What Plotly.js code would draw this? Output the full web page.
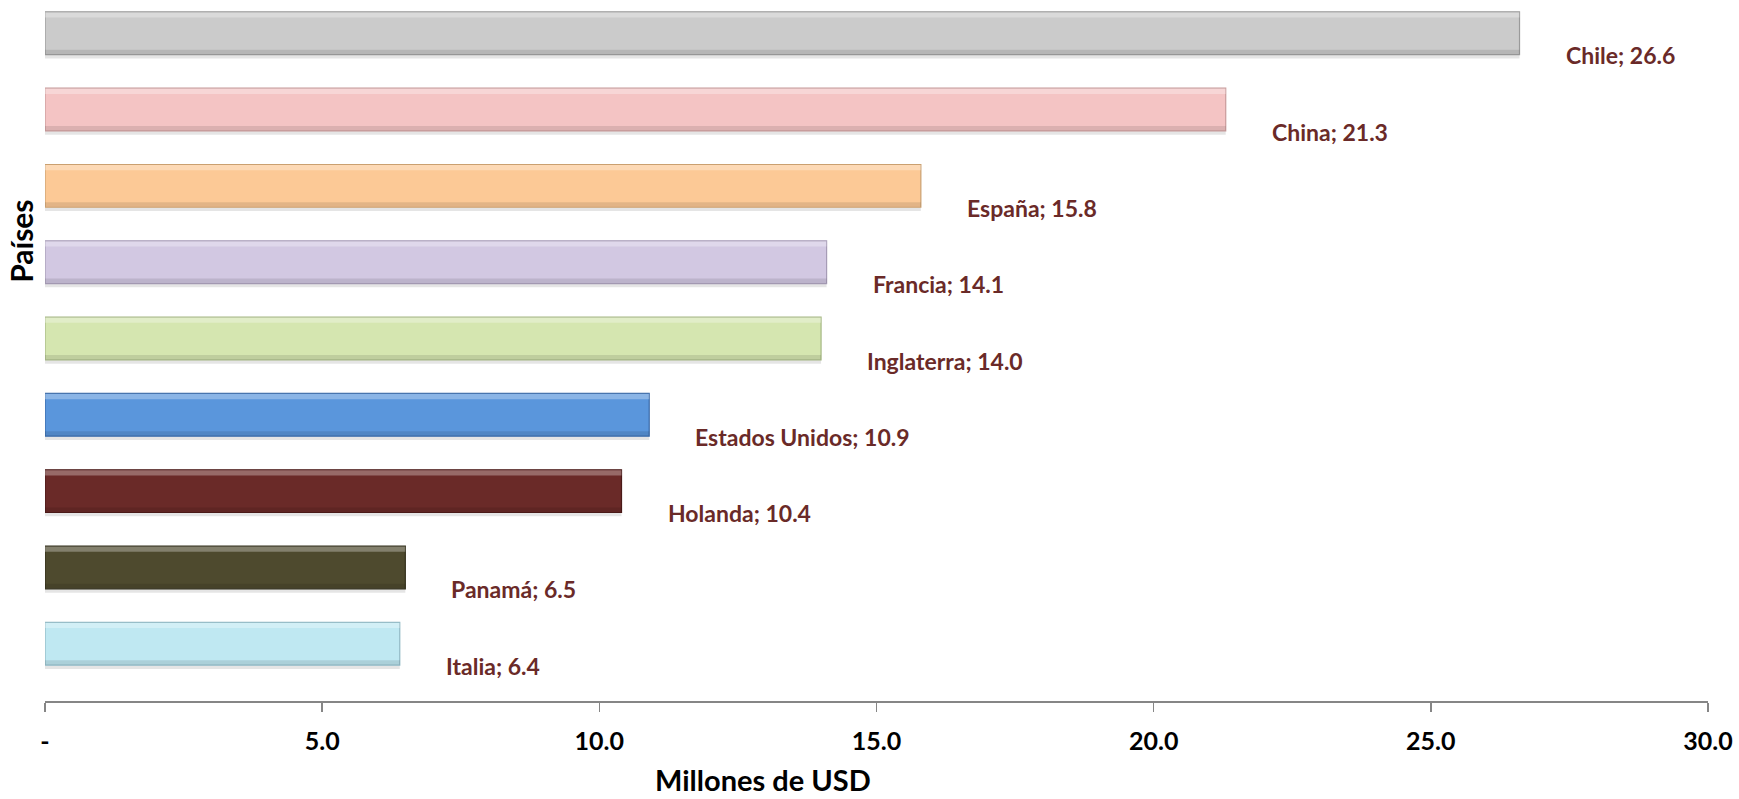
<!DOCTYPE html>
<html>
<head>
<meta charset="utf-8">
<script src="https://cdn.plot.ly/plotly-3.0.1.min.js"></script>
<style>html,body{margin:0;padding:0;background:#fff;}#chart{width:1739px;height:799px;}</style>
</head>
<body>
<div id="chart"></div>
<script>
// Data (bottom to top)
const countries = ["Italia", "Panamá", "Holanda", "Estados Unidos", "Inglaterra", "Francia", "España", "China", "Chile"];
const values = [6.4, 6.5, 10.4, 10.9, 14.0, 14.1, 15.8, 21.3, 26.6];
const barColors = ["#bfe8f2", "#4e4a2e", "#6a2a28", "#5a96dc", "#d5e6b0", "#d2c8e2", "#fcc996", "#f4c4c4", "#cbcbcb"];
const barEdges = ["#8fb8c4", "#33301c", "#4a1a18", "#3a6aa8", "#a6b884", "#a69cb6", "#caa070", "#c89a9a", "#9a9a9a"];
const xTickVals = [0, 5, 10, 15, 20, 25, 30];
const xTickText = ["-", "5.0", "10.0", "15.0", "20.0", "25.0", "30.0"];
const xTitle = "Millones de USD";
const yTitle = "Países";

const labelColor = "#6a2a28";
const font = "Lato, 'Open Sans', sans-serif";

const shadow = {
  type: "bar", orientation: "h", x: values, y: countries,
  marker: { color: "rgba(0,0,0,0.10)", line: { width: 0 } },
  width: 0.05, offset: -0.33, hoverinfo: "skip"
};
const main = {
  type: "bar", orientation: "h", x: values, y: countries,
  marker: { color: barColors, line: { color: barEdges, width: 1.2 } },
  width: 0.56, offset: -0.28, hoverinfo: "x+y"
};
const topLight = {
  type: "bar", orientation: "h", x: values, y: countries,
  marker: { color: "rgba(255,255,255,0.30)", line: { width: 0 } },
  width: 0.07, offset: 0.205, hoverinfo: "skip"
};
const bottomDark = {
  type: "bar", orientation: "h", x: values, y: countries,
  marker: { color: "rgba(0,0,0,0.10)", line: { width: 0 } },
  width: 0.06, offset: -0.275, hoverinfo: "skip"
};

const annotations = countries.map((c, i) => ({
  x: values[i], y: c, xref: "x", yref: "y",
  text: c + "; " + values[i].toFixed(1),
  showarrow: false, xanchor: "left", yanchor: "middle",
  xshift: 44, yshift: -22,
  font: { family: font, size: 23, color: labelColor, weight: "bold" }
}));
annotations.push({
  x: 0.4315, y: 0, xref: "paper", yref: "paper",
  text: "<b>" + xTitle + "</b>", showarrow: false,
  xanchor: "center", yanchor: "bottom", yshift: -98,
  font: { family: font, size: 29, color: "#000" }
});
annotations.push({
  x: -0.0145, y: 0.661, xref: "paper", yref: "paper",
  text: "<b>" + yTitle + "</b>", showarrow: false, textangle: -90,
  xanchor: "center", yanchor: "middle",
  font: { family: font, size: 30, color: "#000" }
});

const layout = {
  width: 1739, height: 799,
  margin: { l: 45, r: 31, t: 5, b: 98 },
  paper_bgcolor: "#fff", plot_bgcolor: "#fff",
  showlegend: false, barmode: "overlay",
  xaxis: {
    range: [0, 30], tickvals: xTickVals, ticktext: xTickText,
    showgrid: false, zeroline: false,
    showline: true, linecolor: "#868686", linewidth: 1.5,
    ticks: "outside", ticklen: 9, tickcolor: "#868686", tickwidth: 1.5,
    ticklabelstandoff: 8,
    tickfont: { family: font, size: 25, color: "#000", weight: "bold" }
  },
  yaxis: {
    type: "category", categoryorder: "array", categoryarray: countries,
    range: [-0.75, 8.37], showticklabels: false, showgrid: false,
    zeroline: false, showline: false, ticks: ""
  },
  annotations: annotations
};

Plotly.newPlot("chart", [shadow, main, bottomDark, topLight], layout, { displayModeBar: false, staticPlot: true });
</script>
</body>
</html>
